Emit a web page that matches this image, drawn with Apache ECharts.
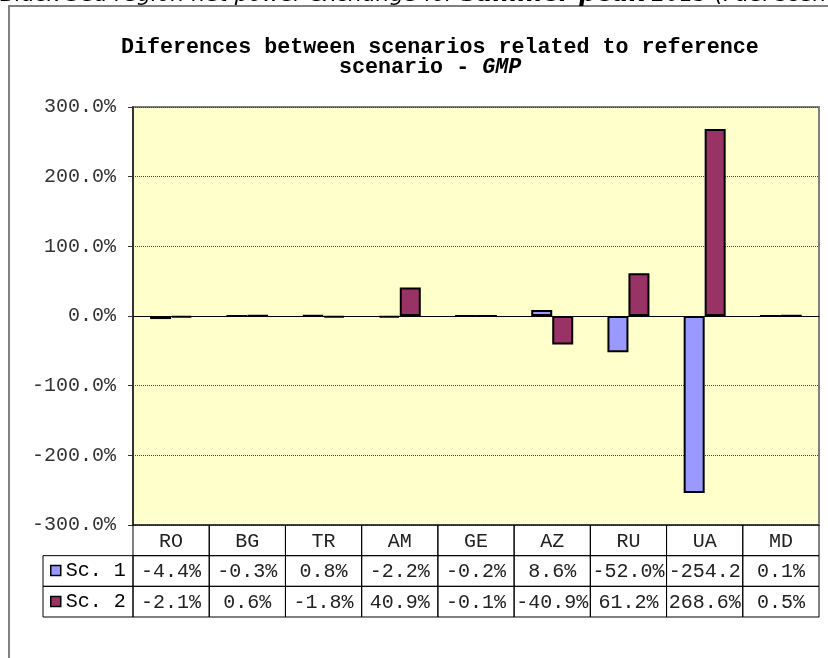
<!DOCTYPE html>
<html>
<head>
<meta charset="utf-8">
<script src="https://cdn.jsdelivr.net/npm/echarts@6/dist/echarts.min.js"></script>
<style>
html,body{margin:0;padding:0;background:#fff;}
#chart{width:828px;height:658px;}
</style>
</head>
<body>
<div id="chart"></div>
<script>
const categories = ['RO','BG','TR','AM','GE','AZ','RU','UA','MD'];
const seriesNames = ['Sc. 1','Sc. 2'];
const sc1 = [-4.4,-0.3,0.8,-2.2,-0.2,8.6,-52.0,-254.2,0.1];
const sc2 = [-2.1,0.6,-1.8,40.9,-0.1,-40.9,61.2,268.6,0.5];
const yMin = -300, yMax = 300, yStep = 100;
const colors = ['#9999FF','#993366'];

const MONO = "'Liberation Mono','Courier New',monospace";
const fmt = v => v.toFixed(1) + '%';

const tableRows = ['', ...seriesNames];
const rowValues = [null, sc1, sc2];
const cells = [];
for (let r = 0; r < tableRows.length; r++) {
  for (let c = 0; c < categories.length; c++) {
    cells.push([c, r]);
  }
}
function cellText(c, r) {
  return r === 0 ? categories[c] : fmt(rowValues[r][c]);
}

const chart = echarts.init(document.getElementById('chart'), null, {renderer:'canvas'});
chart.setOption({
  animation: false,
  backgroundColor: '#fff',
  title: [
    {text: 'Diferences between scenarios related to reference', left: 116, top: 32,
     textStyle: {fontFamily: MONO, fontWeight: 'bold', fontSize: 21.7, color: '#000'}},
    {text: '{n|scenario - }{i|GMP}', left: 334, top: 52,
     textStyle: {rich: {
       n: {fontFamily: MONO, fontWeight: 'bold', fontSize: 21.7, color: '#000'},
       i: {fontFamily: MONO, fontWeight: 'bold', fontStyle: 'italic', fontSize: 21.7, color: '#000'}
     }}}
  ],
  graphic: [
    {type: 'rect', z: -10, silent: true, shape: {x: 9, y: 6, width: 900, height: 800},
     style: {fill: 'none', stroke: '#808080', lineWidth: 2}},
    {type: 'text', x: 0, y: -5, silent: true,
     style: {text: '{i|Black Sea region net power exchange for }{b|summer peak}{i| 2015 (Fuel scenario)}',
       verticalAlign: 'middle',
       rich: {
         i: {fontFamily: "'DejaVu Sans',sans-serif", fontStyle: 'italic', fontSize: 22, fill: '#000'},
         b: {fontFamily: "'DejaVu Sans',sans-serif", fontStyle: 'italic', fontWeight: 'bold', fontSize: 24, fill: '#000'}
       }}}
  ],
  legend: {
    data: seriesNames, orient: 'vertical', left: 50, top: 555, itemGap: 0,
    itemWidth: 10, itemHeight: 10, padding: 0, icon: 'rect', selectedMode: false,
    itemStyle: {borderColor: '#000', borderWidth: 1.5},
    textStyle: {fontFamily: MONO, fontSize: 20, color: '#000', lineHeight: 31}
  },
  grid: [
    {left: 133, top: 107, width: 686, height: 418, show: true,
     backgroundColor: '#FFFFCC', borderColor: '#808080', borderWidth: 2},
    {left: 133, top: 525, width: 686, height: 92}
  ],
  xAxis: [
    {type: 'category', gridIndex: 0, data: categories,
     axisLine: {show: true, onZero: true, lineStyle: {color: '#000', width: 1}},
     axisTick: {show: false}, axisLabel: {show: false}, splitLine: {show: false}},
    {type: 'category', gridIndex: 1, data: categories, show: false}
  ],
  yAxis: [
    {type: 'value', gridIndex: 0, min: yMin, max: yMax, interval: yStep,
     axisLine: {show: true, lineStyle: {color: '#333', width: 2}},
     axisTick: {show: true, length: 5, lineStyle: {color: '#333', width: 1}},
     axisLabel: {formatter: v => fmt(v), fontFamily: MONO, fontSize: 20, color: '#333', margin: 17},
     splitLine: {show: true, lineStyle: {type: 'dotted', color: '#444', width: 1}}},
    {type: 'category', gridIndex: 1, data: tableRows, inverse: true, show: false}
  ],
  series: [
    {name: seriesNames[0], type: 'bar', xAxisIndex: 0, yAxisIndex: 0, data: sc1,
     barWidth: 21, barGap: '0%',
     itemStyle: {color: colors[0], borderColor: '#000', borderWidth: 2}},
    {name: seriesNames[1], type: 'bar', xAxisIndex: 0, yAxisIndex: 0, data: sc2,
     barWidth: 21, barGap: '0%',
     itemStyle: {color: colors[1], borderColor: '#000', borderWidth: 2}},
    {type: 'custom', xAxisIndex: 1, yAxisIndex: 1, data: cells, silent: true,
     renderItem: function (params, api) {
       const c = api.value(0), r = api.value(1);
       const p = api.coord([c, r]);
       const s = api.size([1, 1]);
       const x0 = p[0] - s[0] / 2, y0 = p[1] - s[1] / 2;
       const children = [
         {type: 'rect', shape: {x: x0, y: y0, width: s[0], height: s[1]},
          style: {fill: 'none', stroke: '#000', lineWidth: 1}},
         {type: 'text', style: {text: cellText(c, r), x: p[0], y: p[1] + 1,
           align: 'center', verticalAlign: 'middle',
           font: "20px 'Liberation Mono','Courier New',monospace", fill: '#222',
           width: s[0] - 2, overflow: 'truncate', ellipsis: ''}}
       ];
       if (c === 0 && r > 0) {
         children.push({type: 'rect', shape: {x: x0 - 90, y: y0, width: 90, height: s[1]},
           style: {fill: 'none', stroke: '#000', lineWidth: 1}});
       }
       return {type: 'group', children: children};
     }}
  ]
});
</script>
</body>
</html>
